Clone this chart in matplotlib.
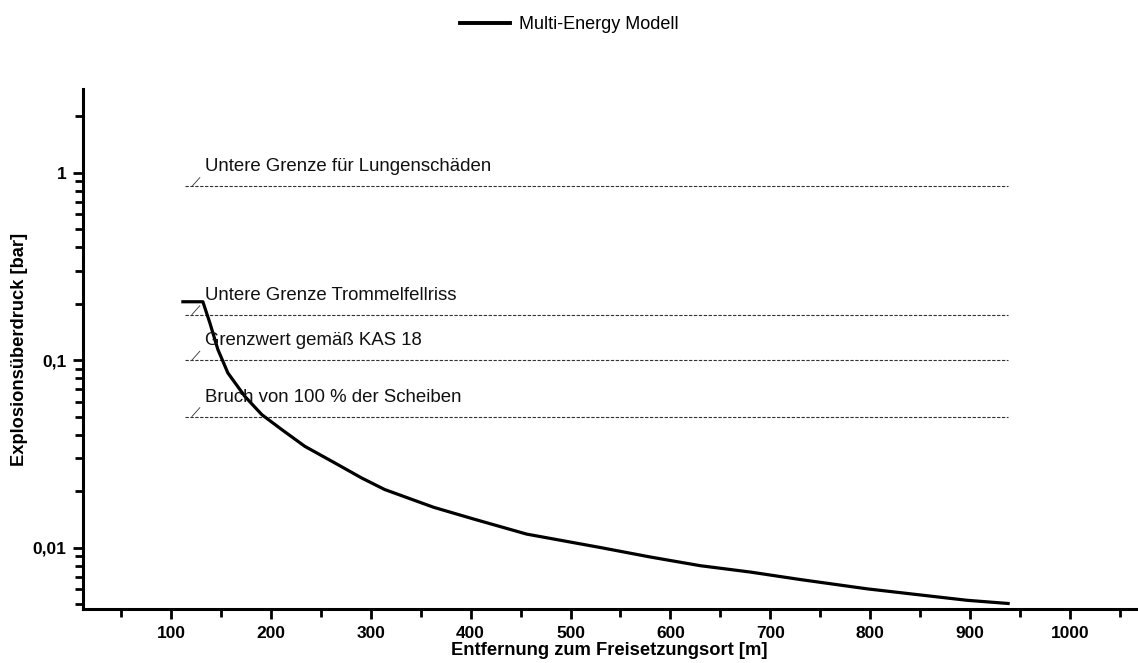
import matplotlib
matplotlib.use("Agg")
import matplotlib.pyplot as plt
from matplotlib.ticker import FixedLocator, LogLocator, NullFormatter

plt.rcParams['font.family'] = ['Liberation Sans', 'DejaVu Sans']

# Multi-Energy model curve
distance = [112, 132, 139, 147, 157, 174, 191, 211, 234, 264, 291, 314,
            363, 403, 456, 530, 580, 630, 680, 730, 797, 847, 897, 938]
pressure = [0.205, 0.205, 0.158, 0.114, 0.0855, 0.0641, 0.0512, 0.0426,
            0.0347, 0.0283, 0.0235, 0.0204, 0.0164, 0.0142, 0.0118, 0.0100,
            0.0089, 0.0080, 0.0074, 0.00675, 0.00602, 0.00561, 0.00523,
            0.00503]

# threshold lines
limit_values = [0.845, 0.175, 0.1, 0.05]
limit_labels = ["Untere Grenze für Lungenschäden",
                "Untere Grenze Trommelfellriss",
                "Grenzwert gemäß KAS 18",
                "Bruch von 100 % der Scheiben"]
limit_start = 114
limit_end = 938

yticks = [0.01, 0.1, 1]
ytick_labels = ["0,01", "0,1", "1"]
xticks = [100, 200, 300, 400, 500, 600, 700, 800, 900, 1000]

fig = plt.figure(figsize=(11.38, 6.63), dpi=100)
ax = fig.add_axes([83 / 1138, 54 / 663, 1053 / 1138, 520 / 663])

for val, lab in zip(limit_values, limit_labels):
    ax.plot([limit_start, limit_end], [val, val], color='#333333', lw=0.8,
            dashes=(3, 1.4))
    # small slash and label
    ax.annotate('', xy=(limit_start + 7, val), xytext=(8, 9),
                textcoords='offset pixels',
                arrowprops=dict(arrowstyle='-', lw=0.6, color='#333333',
                                shrinkA=0, shrinkB=0))
    ax.annotate(lab, xy=(limit_start, val), xytext=(20, 15),
                textcoords='offset pixels', va='baseline', ha='left',
                fontsize=13.4, color='#111111')

ax.plot(distance, pressure, color='black', lw=2.3, solid_joinstyle='round',
        label='Multi-Energy Modell')

ax.set_yscale('log')
ax.set_xlim(12, 1066)
ax.set_ylim(0.0047, 2.8)

ax.yaxis.set_major_locator(FixedLocator(yticks))
ax.set_yticklabels(ytick_labels)
ax.yaxis.set_minor_locator(LogLocator(base=10, subs=range(2, 10)))
ax.yaxis.set_minor_formatter(NullFormatter())
ax.set_xticks(xticks)
ax.set_xticks([50 + 100 * i for i in range(11)], minor=True)

for side in ['top', 'right']:
    ax.spines[side].set_visible(False)
for side in ['left', 'bottom']:
    ax.spines[side].set_linewidth(2.2)

ax.tick_params(which='major', direction='out', length=7, width=2,
               labelsize=12.5, pad=5)
ax.tick_params(which='minor', direction='out', length=6, width=2)
for t in ax.get_xticklabels() + ax.get_yticklabels():
    t.set_fontweight('bold')

ax.set_xlabel('Entfernung zum Freisetzungsort [m]', fontsize=13.2,
              fontweight='bold', labelpad=1)
ax.set_ylabel('Explosionsüberdruck [bar]', fontsize=13.2, fontweight='bold',
              labelpad=3)

leg = fig.legend(loc='upper center', bbox_to_anchor=(0.5, 1.0), frameon=False,
                 fontsize=13, handlelength=2.75, handletextpad=0.5)
for line in leg.get_lines():
    line.set_linewidth(2.8)

fig.savefig('out.png', dpi=100)
